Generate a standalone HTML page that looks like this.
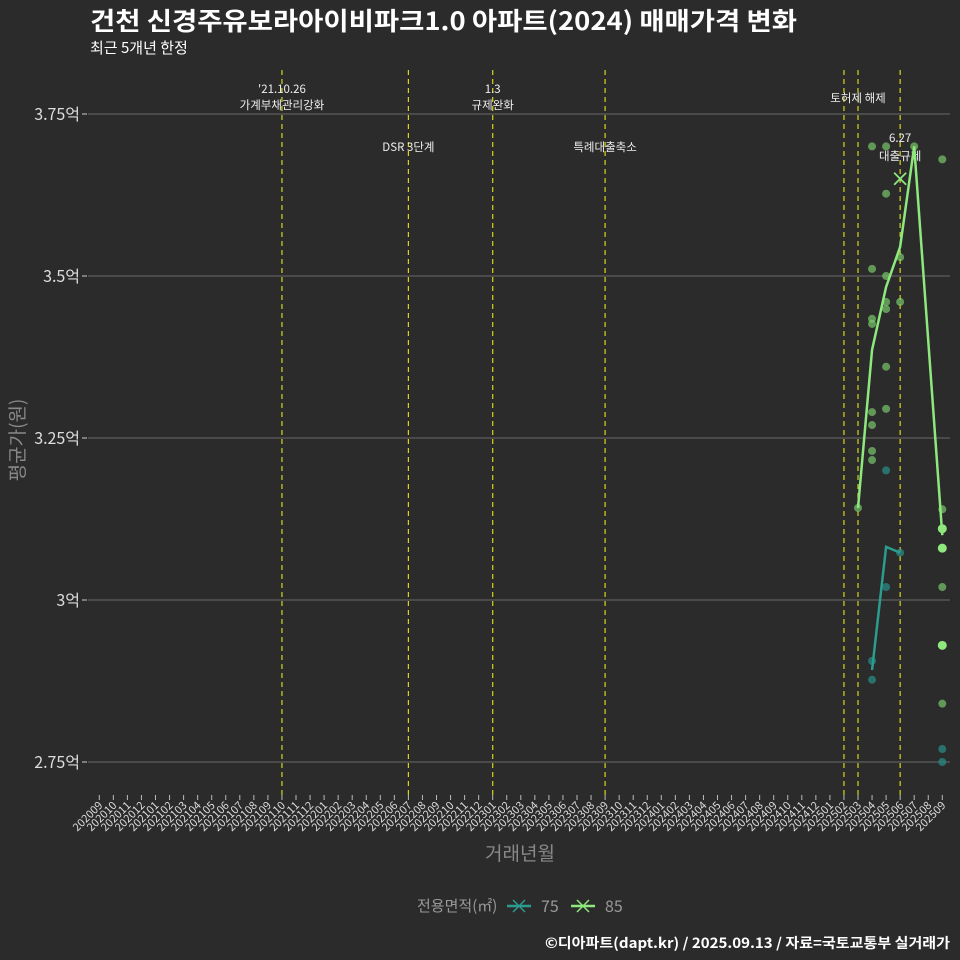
<!DOCTYPE html>
<html><head><meta charset="utf-8"><style>
body{margin:0;background:#2b2b2b;}
svg{display:block;font-family:"Noto Sans CJK KR","Liberation Sans",sans-serif;}
</style></head><body>
<svg id="c" width="960" height="960" viewBox="0 0 960 960">
<rect width="960" height="960" fill="#2b2b2b"/>
<text x="90" y="30" font-size="25" font-weight="bold" fill="#fff" textLength="707" lengthAdjust="spacingAndGlyphs">건천 신경주유보라아이비파크1.0 아파트(2024) 매매가격 변화</text>
<text x="90" y="53" font-size="15" fill="#fff">최근 5개년 한정</text>
<text x="520" y="860" font-size="19" fill="#888" text-anchor="middle">거래년월</text>
<text transform="translate(24,440) rotate(-90)" font-size="19" fill="#888" text-anchor="middle">평균가(원)</text>
<g id="grid"></g><g id="marks"></g>
<g>
<text x="417" y="911" font-size="15" fill="#999">전용면적(㎡)</text>
<g><line x1="507" y1="906" x2="531" y2="906" stroke="#2a9d8f" stroke-width="2.5"/><path d="M513 900 L525 912 M513 912 L525 900" stroke="#2a9d8f" stroke-width="1.5"/><text x="541" y="912" font-size="16" fill="#999">75</text></g>
<g><line x1="571" y1="906" x2="595" y2="906" stroke="#8ee87e" stroke-width="2.5"/><path d="M577 900 L589 912 M577 912 L589 900" stroke="#8ee87e" stroke-width="1.5"/><text x="605" y="912" font-size="16" fill="#999">85</text></g>
</g>
<text x="950" y="948" font-size="14" font-weight="bold" fill="#fff" text-anchor="end" textLength="405" lengthAdjust="spacingAndGlyphs">©디아파트(dapt.kr) / 2025.09.13 / 자료=국토교통부 실거래가</text>
</svg>
<script>
const months=[];for(let y=2020,m=9;!(y===2025&&m>9);){months.push(''+y+(m<10?'0':'')+m);m++;if(m>12){m=1;y++;}}
const yTicks=[2.75,3,3.25,3.5,3.75];
const yTickLabels=['2.75억','3억','3.25억','3.5억','3.75억'];
const events=['202110','202207','202301','202309','202502','202503','202506'];
const eventLabels=[["'21.10.26","가계부채관리강화"],["DSR 3단계"],["1.3","규제완화"],["특례대출축소"],[""],["토허제 해제"],["6.27","대출규제"]];
const line75Months=['202504','202505','202506'];
const line75Values=[2.892,3.082,3.073];
const line85Months=['202503','202504','202505','202506','202507','202509'];
const line85Values=[3.142,3.386,3.483,3.545,3.70,3.10];
const pts85Months=['202503','202504','202504','202504','202504','202504','202504','202504','202504','202505','202505','202505','202505','202505','202505','202505','202506','202506','202507','202509','202509','202509','202509','202509','202509','202509'];
const pts85Values=[3.142,3.70,3.511,3.434,3.426,3.29,3.27,3.23,3.216,3.70,3.627,3.50,3.46,3.449,3.36,3.295,3.529,3.46,3.70,3.68,3.14,3.11,3.08,3.02,2.93,2.84];
const pts85Bright=[0,0,0,0,0,0,0,0,0,0,0,0,0,0,0,0,0,0,0,0,0,1,1,0,1,0];
const pts75Months=['202504','202504','202505','202505','202506','202509','202509'];
const pts75Values=[2.906,2.877,3.20,3.02,3.073,2.77,2.75];
const crossMonth='202506',crossValue=3.65;
const X=m=>99.3+14.05*months.indexOf(m);
const Y=v=>600-(v-3)*648;
const NS='http://www.w3.org/2000/svg';
function mk(p,t,a){const e=document.createElementNS(NS,t);for(const k in a)e.setAttribute(k,a[k]);p.appendChild(e);return e;}
const g=document.getElementById('grid'),mg=document.getElementById('marks');
yTicks.forEach((v,i)=>{
 const l=mk(g,'line',{x1:88,x2:950,y1:Y(v),y2:Y(v),stroke:'#6a6a6a','stroke-width':1});
 
 
 const tk=mk(g,'line',{x1:82,x2:87,y1:Y(v),y2:Y(v),stroke:'#ccc'});
 
 
 const t=mk(g,'text',{x:80,y:Y(v)+6,'font-size':16,fill:'#ddd','text-anchor':'end'});t.textContent=yTickLabels[i];
 
 
});
months.forEach(m=>{
 const x=X(m);
 const tk=mk(g,'line',{x1:x,x2:x,y1:795,y2:800,stroke:'#bbb'});
 
 
 const t=mk(g,'text',{x:x+4,y:806,'font-size':11,fill:'#ddd','text-anchor':'end',transform:`rotate(-45 ${x+4} 806)`});t.textContent=m;
 
 
});
const labY=[[93,109],[151],[93,109],[151],[],[102],[142,160]];
events.forEach((m,i)=>{
 const x=X(m);
 const l=mk(g,'line',{x1:x,x2:x,y1:70,y2:795,stroke:'#d4d422','stroke-width':1.2,'stroke-dasharray':'5,4'});
 
 
 eventLabels[i].forEach((s,j)=>{if(!s)return;
  const t=mk(g,'text',{x:x,y:labY[i][j],'font-size':11.5,fill:'#eee','text-anchor':'middle'});t.textContent=s;
  
  
 });
});
pts75Months.forEach((m,i)=>{
 const c=mk(mg,'circle',{cx:X(m),cy:Y(pts75Values[i]),r:4,fill:'#2a8a84','fill-opacity':0.75});
 
 
});
pts85Months.forEach((m,i)=>{
 const c=mk(mg,'circle',{cx:X(m),cy:Y(pts85Values[i]),r:pts85Bright[i]?4.5:4,fill:pts85Bright[i]?'#8ee87e':'#7ed36e','fill-opacity':pts85Bright[i]?1:0.65});
 
 
});
const p75=mk(mg,'polyline',{points:line75Months.map((m,i)=>X(m)+','+Y(line75Values[i])).join(' '),fill:'none',stroke:'#2a9d8f','stroke-width':2.5});


const p85=mk(mg,'polyline',{points:line85Months.map((m,i)=>X(m)+','+Y(line85Values[i])).join(' '),fill:'none',stroke:'#8ee87e','stroke-width':2.5});


const cx=X(crossMonth),cy=Y(crossValue);
const cr=mk(mg,'path',{d:`M${cx-6} ${cy-6} L${cx+6} ${cy+6} M${cx-6} ${cy+6} L${cx+6} ${cy-6}`,stroke:'#8ee87e','stroke-width':1.8});


</script>
</body></html>
